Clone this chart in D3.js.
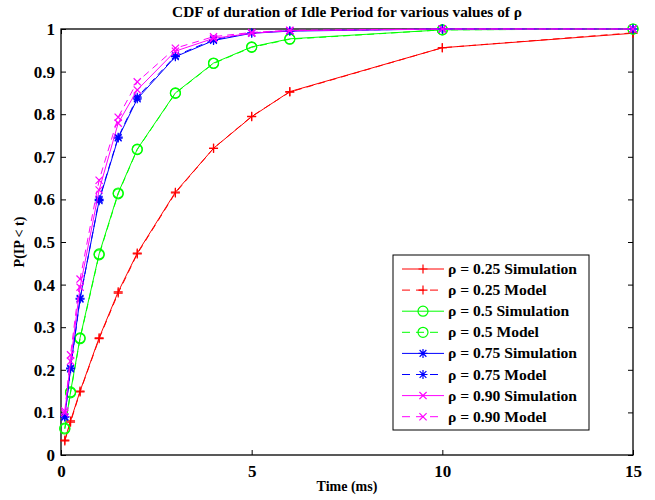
<!DOCTYPE html>
<html><head><meta charset="utf-8">
<script src="https://cdn.jsdelivr.net/npm/d3@7"></script>
<style>body{margin:0;background:#fff}svg{display:block}text{font-family:"Liberation Serif","Times New Roman",serif;font-weight:bold}</style>
</head><body><div id="chart"></div>
<script>
const times = [0.1, 0.25, 0.5, 1, 1.5, 2, 3, 4, 5, 6, 10, 15];
const rho025Sim   = [0.035, 0.080, 0.150, 0.275, 0.383, 0.474, 0.617, 0.720, 0.794, 0.853, 0.956, 0.990];
const rho025Model = [0.033, 0.077, 0.148, 0.273, 0.380, 0.472, 0.615, 0.720, 0.795, 0.852, 0.956, 0.991];
const rho05Sim    = [0.063, 0.148, 0.275, 0.472, 0.615, 0.718, 0.850, 0.920, 0.958, 0.977, 0.998, 1.000];
const rho05Model  = [0.061, 0.146, 0.273, 0.470, 0.613, 0.717, 0.849, 0.919, 0.957, 0.976, 0.998, 1.000];
const rho075Sim   = [0.089, 0.204, 0.368, 0.597, 0.744, 0.836, 0.935, 0.973, 0.990, 0.995, 1.000, 1.000];
const rho075Model = [0.090, 0.202, 0.366, 0.600, 0.746, 0.840, 0.937, 0.975, 0.991, 0.996, 1.000, 1.000];
const rho090Sim   = [0.098, 0.220, 0.394, 0.622, 0.779, 0.857, 0.948, 0.978, 0.990, 0.996, 1.000, 1.000];
const rho090Model = [0.103, 0.235, 0.413, 0.645, 0.793, 0.876, 0.955, 0.982, 0.992, 0.997, 1.000, 1.000];
const seriesNames = ["ρ = 0.25 Simulation","ρ = 0.25 Model","ρ = 0.5 Simulation","ρ = 0.5 Model",
                     "ρ = 0.75 Simulation","ρ = 0.75 Model","ρ = 0.90 Simulation","ρ = 0.90 Model"];
const seriesValues = [rho025Sim, rho025Model, rho05Sim, rho05Model, rho075Sim, rho075Model, rho090Sim, rho090Model];
const xTicks = [0, 5, 10, 15];
const yTicks = [0, 0.1, 0.2, 0.3, 0.4, 0.5, 0.6, 0.7, 0.8, 0.9, 1];
const yTickLabels = ["0","0.1","0.2","0.3","0.4","0.5","0.6","0.7","0.8","0.9","1"];

const colors = ["#ff0000","#ff0000","#00ff00","#00ff00","#0000ff","#0000ff","#ff00ff","#ff00ff"];
const markers = ["plus","plus","circle","circle","star","star","cross","cross"];
const dashed = [false,true,false,true,false,true,false,true];

const W = 655, H = 500;
const m = {left: 61, right: 633, top: 29, bottom: 455};
const svg = d3.select("#chart").append("svg").attr("width", W).attr("height", H);
const x = d3.scaleLinear().domain([0, 15]).range([m.left, m.right]);
const y = d3.scaleLinear().domain([0, 1]).range([m.bottom, m.top]);

function marker(g, type, cx, cy, color) {
  const s = 4.5;
  const p = d3.path();
  if (type === "plus" || type === "star") {
    p.moveTo(cx - s, cy); p.lineTo(cx + s, cy);
    p.moveTo(cx, cy - s); p.lineTo(cx, cy + s);
  }
  if (type === "cross" || type === "star") {
    const d = type === "star" ? s * 0.75 : s * 0.8;
    p.moveTo(cx - d, cy - d); p.lineTo(cx + d, cy + d);
    p.moveTo(cx - d, cy + d); p.lineTo(cx + d, cy - d);
  }
  if (type === "circle") {
    g.append("circle").attr("cx", cx).attr("cy", cy).attr("r", 5)
      .attr("fill", "none").attr("stroke", color).attr("stroke-width", 1.2);
    return;
  }
  g.append("path").attr("d", p.toString()).attr("stroke", color).attr("stroke-width", 1.2).attr("fill", "none");
}

// axes with inward ticks (box style)
const tl = 5;
const axB = svg.append("g").attr("transform", `translate(0,${m.bottom})`)
  .call(d3.axisBottom(x).tickValues(xTicks).tickSizeInner(-tl).tickSizeOuter(0).tickPadding(10).tickFormat(d3.format("d")));
const axT = svg.append("g").attr("transform", `translate(0,${m.top})`)
  .call(d3.axisTop(x).tickValues(xTicks).tickSizeInner(-tl).tickSizeOuter(0).tickFormat(""));
const axL = svg.append("g").attr("transform", `translate(${m.left},0)`)
  .call(d3.axisLeft(y).tickValues(yTicks).tickSizeInner(-tl).tickSizeOuter(0).tickPadding(6).tickFormat((d,i) => yTickLabels[i]));
const axR = svg.append("g").attr("transform", `translate(${m.right},0)`)
  .call(d3.axisRight(y).tickValues(yTicks).tickSizeInner(-tl).tickSizeOuter(0).tickFormat(""));
[axB, axT, axL, axR].forEach(a => {
  a.select(".domain").remove();
  a.selectAll("line").attr("stroke", "#000");
  a.selectAll("text").attr("font-size", 17).attr("fill", "#000").style("font-family", '"Liberation Serif", serif').style("font-weight", "bold");
});
svg.append("rect").attr("x", m.left).attr("y", m.top).attr("width", m.right - m.left).attr("height", m.bottom - m.top)
  .attr("fill", "none").attr("stroke", "#000").attr("stroke-width", 1.3);

// series
const line = d3.line().x((d, i) => x(times[i])).y(d => y(d));
seriesValues.forEach((vals, k) => {
  const g = svg.append("g");
  g.append("path").datum(vals).attr("d", line).attr("fill", "none")
    .attr("stroke", colors[k]).attr("stroke-width", 1)
    .attr("stroke-dasharray", dashed[k] ? "7,5" : null);
  vals.forEach((v, i) => marker(g, markers[k], x(times[i]), y(v), colors[k]));
});

// title & labels
svg.append("text").attr("x", 347).attr("y", 17).attr("text-anchor", "middle").attr("font-size", 15.3)
  .text("CDF of duration of Idle Period for various values of ρ");
svg.append("text").attr("x", 347).attr("y", 491).attr("text-anchor", "middle").attr("font-size", 14).text("Time (ms)");
svg.append("text").attr("transform", "translate(24,242) rotate(-90)").attr("text-anchor", "middle").attr("font-size", 14).text("P(IP < t)");

// legend
const lg = svg.append("g");
lg.append("rect").attr("x", 393).attr("y", 255).attr("width", 196).attr("height", 175)
  .attr("fill", "#fff").attr("stroke", "#000").attr("stroke-width", 1);
seriesNames.forEach((name, k) => {
  const cy = 269 + k * 21.1;
  lg.append("line").attr("x1", 402).attr("x2", 444).attr("y1", cy).attr("y2", cy)
    .attr("stroke", colors[k]).attr("stroke-width", 1).attr("stroke-dasharray", dashed[k] ? "8,6" : null);
  marker(lg, markers[k], 423, cy, colors[k]);
  lg.append("text").attr("x", 448).attr("y", cy + 5).attr("font-size", 15.6).text(name);
});
</script></body></html>
